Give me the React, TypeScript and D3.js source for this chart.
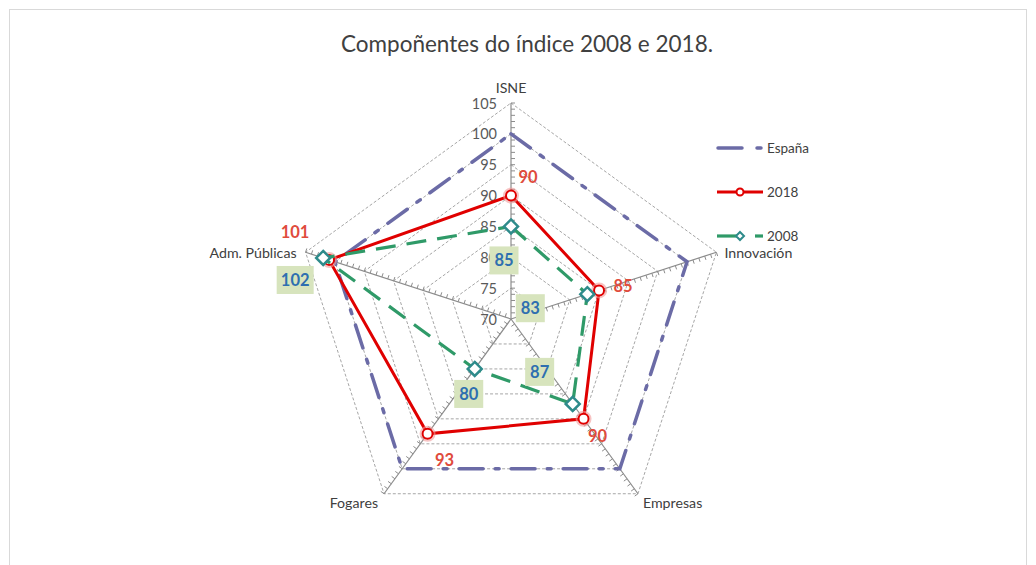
import * as d3 from "d3";

const categories = ["ISNE", "Innovación", "Empresas", "Fogares", "Adm. Públicas"];
const espana = [100, 100, 100, 100, 100];
const values2018 = [90, 85, 90, 93, 101];
const values2008 = [85, 83, 87, 80, 102];
const ticks = [70, 75, 80, 85, 90, 95, 100, 105];

const title = "Compoñentes do índice 2008 e 2018.";
const seriesNames = ["España", "2018", "2008"];

export default function App() {
  const width = 1036;
  const height = 565;
  const cx = 511;
  const cy = 319;
  const radius = 216;
  const font = "Lato, 'Open Sans', sans-serif";

  const red = "#E00000";
  const green = "#2F9A68";
  const teal = "#2E8B8B";
  const purple = "#6B6BA6";
  const gridColor = "#A6A6A6";
  const axisColor = "#8C8C8C";

  const rScale = d3.scaleLinear().domain([ticks[0], ticks[ticks.length - 1]]).range([0, radius]);
  const angle = (i: number) => (i * 2 * Math.PI) / categories.length;
  const point = (i: number, v: number): [number, number] => {
    const r = rScale(v);
    return [Math.sin(angle(i)) * r, -Math.cos(angle(i)) * r];
  };

  const radar = d3
    .lineRadial<number>()
    .angle((_, i) => angle(i))
    .radius((d) => rScale(d))
    .curve(d3.curveLinearClosed);

  // label offsets relative to each point
  const off2018 = [[17, -19], [24, -4], [14, 17], [17, 26], [-34, -28]];
  const off2008 = [[-7, 34], [-57, 14], [-33, -32], [-6, 25], [-28, 22]];

  // category label placement
  const catOff = [
    { dx: 0, dy: -16, anchor: "middle" },
    { dx: 8, dy: 0, anchor: "start" },
    { dx: 5, dy: 9, anchor: "start" },
    { dx: -6, dy: 9, anchor: "end" },
    { dx: -9, dy: 0, anchor: "end" },
  ];

  const minorTicks = d3.range(ticks[0] + 1, ticks[ticks.length - 1] + 0.5, 1);

  return (
    <svg
      width={width}
      height={height}
      style={{ position: "absolute", left: 0, top: 0, background: "#fff" }}
      fontFamily={font}
    >
      <rect x={9.5} y={9.5} width={1017} height={570} fill="#fff" stroke="#D9D9D9" />
      <text x={527} y={52} textAnchor="middle" fontSize={22.5} fill="#404040">
        {title}
      </text>

      <g transform={`translate(${cx}, ${cy})`}>
        {/* grid pentagons */}
        {ticks.slice(1).map((t) => (
          <path
            key={t}
            d={radar(categories.map(() => t)) || ""}
            fill="none"
            stroke={gridColor}
            strokeWidth={1}
            strokeDasharray="3 2"
          />
        ))}
        {/* spokes with tick marks */}
        {categories.map((c, i) => {
          const [x2, y2] = point(i, ticks[ticks.length - 1]);
          const a = angle(i);
          const ux = Math.sin(a);
          const uy = -Math.cos(a);
          const px = -uy;
          const py = ux;
          return (
            <g key={c}>
              <line x1={0} y1={0} x2={x2} y2={y2} stroke={axisColor} strokeWidth={1.2} />
              {minorTicks.map((t) => {
                const r = rScale(t);
                return (
                  <line
                    key={t}
                    x1={ux * r}
                    y1={uy * r}
                    x2={ux * r + px * 4}
                    y2={uy * r + py * 4}
                    stroke={axisColor}
                    strokeWidth={1}
                  />
                );
              })}
            </g>
          );
        })}
        {/* tick labels */}
        {ticks.map((t) => (
          <text
            key={t}
            x={-14}
            y={-rScale(t)}
            textAnchor="end"
            dominantBaseline="central"
            fontSize={14.5}
            fill="#595959"
          >
            {t}
          </text>
        ))}
        {/* category labels */}
        {categories.map((c, i) => {
          const [x, y] = point(i, ticks[ticks.length - 1]);
          const o = catOff[i];
          return (
            <text
              key={c}
              x={x + o.dx}
              y={y + o.dy}
              textAnchor={o.anchor as any}
              dominantBaseline="central"
              fontSize={14.2}
              fill="#404040"
            >
              {c}
            </text>
          );
        })}

        {/* series */}
        <path
          d={radar(espana) || ""}
          fill="none"
          stroke={purple}
          strokeWidth={3.5}
          strokeDasharray="24 12 4 12"
          strokeLinecap="round"
        />
        <path d={radar(values2018) || ""} fill="none" stroke={red} strokeWidth={3} />
        {values2018.map((v, i) => {
          const [x, y] = point(i, v);
          return (
            <g key={i}>
              <circle cx={x} cy={y} r={7} fill="none" stroke="#F29B9B" strokeWidth={2} opacity={0.6} />
              <circle cx={x} cy={y} r={5} fill="#fff" stroke={red} strokeWidth={2} />
            </g>
          );
        })}
        <path
          d={radar(values2008) || ""}
          fill="none"
          stroke={green}
          strokeWidth={3.2}
          strokeDasharray="20 11"
        />
        {values2008.map((v, i) => {
          const [x, y] = point(i, v);
          const s = 7;
          return (
            <path
              key={i}
              d={`M${x},${y - s}L${x + s},${y}L${x},${y + s}L${x - s},${y}Z`}
              fill="#fff"
              stroke={teal}
              strokeWidth={2.5}
            />
          );
        })}

        {/* data labels */}
        {values2018.map((v, i) => {
          const [x, y] = point(i, v);
          return (
            <text
              key={i}
              x={x + off2018[i][0]}
              y={y + off2018[i][1]}
              textAnchor="middle"
              dominantBaseline="central"
              fontSize={16.5}
              fontWeight="bold"
              fill="#E04B3C"
            >
              {v}
            </text>
          );
        })}
        {values2008.map((v, i) => {
          const [x, y] = point(i, v);
          const lx = x + off2008[i][0];
          const ly = y + off2008[i][1];
          const w = String(v).length > 2 ? 37 : 29;
          return (
            <g key={i}>
              <rect x={lx - w / 2} y={ly - 14} width={w} height={28} fill="#D7E4BD" />
              <text
                x={lx}
                y={ly}
                textAnchor="middle"
                dominantBaseline="central"
                fontSize={16.5}
                fontWeight="bold"
                fill="#2E6FB0"
              >
                {v}
              </text>
            </g>
          );
        })}
      </g>

      {/* legend */}
      <g fontSize={13.5} fill="#404040">
        {seriesNames.map((name, i) => {
          const y = 148 + i * 44;
          return (
            <g key={name}>
              {i === 0 && (
                <>
                  <line x1={718} y1={y} x2={742} y2={y} stroke={purple} strokeWidth={3.5} strokeLinecap="round" />
                  <line x1={757} y1={y} x2={761} y2={y} stroke={purple} strokeWidth={3.5} strokeLinecap="round" />
                </>
              )}
              {i === 1 && (
                <>
                  <line x1={717} y1={y} x2={763} y2={y} stroke={red} strokeWidth={3} />
                  <circle cx={740} cy={y} r={3.5} fill="#fff" stroke={red} strokeWidth={2} />
                </>
              )}
              {i === 2 && (
                <>
                  <line x1={717} y1={y} x2={740} y2={y} stroke={green} strokeWidth={3.2} />
                  <line x1={755} y1={y} x2={763} y2={y} stroke={green} strokeWidth={3.2} />
                  <path
                    d={`M740,${y - 4}L744,${y}L740,${y + 4}L736,${y}Z`}
                    fill="#fff"
                    stroke={teal}
                    strokeWidth={2}
                  />
                </>
              )}
              <text x={767} y={y} dominantBaseline="central">
                {name}
              </text>
            </g>
          );
        })}
      </g>
    </svg>
  );
}
